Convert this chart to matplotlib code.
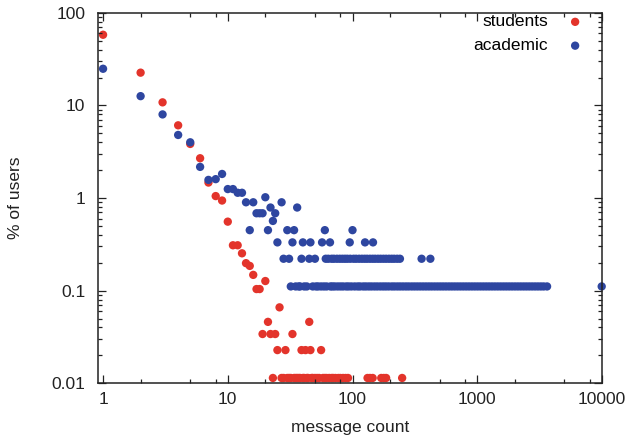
import matplotlib
matplotlib.use("Agg")
import matplotlib.pyplot as plt
from matplotlib.ticker import FixedLocator, NullFormatter

plt.rcParams['font.family'] = ['Liberation Sans', 'DejaVu Sans']

# students (% of users per message count)
students_x = [1, 2, 3, 4, 5, 6, 7, 8, 9, 10, 11, 12, 13, 14, 15, 16, 17, 18, 20,
              19, 22, 24, 33, 21, 45, 26, 25, 29, 39, 42, 46, 56,
              23, 27, 28, 30, 31, 32, 34, 35, 36, 37, 38, 40, 41, 43, 44, 47, 48,
              50, 52, 54, 58, 60, 62, 65, 68, 70, 73, 77, 80, 84, 88, 92,
              132, 138, 145, 170, 178, 186, 250]
students_y = [58, 22.6, 10.8, 6.1, 3.84, 2.69, 1.47, 1.05, 0.94, 0.556, 0.309, 0.309,
              0.253, 0.198, 0.185, 0.148, 0.104, 0.104, 0.127,
              0.034, 0.034, 0.034, 0.034, 0.046, 0.046, 0.066, 0.0228, 0.0228,
              0.0228, 0.0228, 0.0228, 0.0228] + [0.0114] * 39

# academic
academic_x = [1, 2, 3, 4, 5, 6, 7, 8, 9, 10, 11, 12, 13, 14, 16, 20, 27, 22, 36,
              17, 18, 19, 24, 23, 15, 21, 30, 34, 60, 100,
              25, 33, 40, 46, 57, 66, 95, 126, 146,
              28, 31, 39, 45, 50, 61, 64, 68, 71, 75, 79, 83, 87, 91, 96, 102, 107,
              113, 119, 125, 131, 138, 145, 152, 160, 168, 177, 186, 196, 206, 216,
              228, 240, 358, 421,
              32, 35, 37, 38, 41, 43, 48, 51, 53, 56, 59, 62, 66.5, 69, 72, 76, 80,
              84, 89, 93, 98, 104, 110, 115, 122, 128, 135, 142, 150, 158, 167,
              176, 185, 195, 206.5, 217, 229, 241, 254, 268, 282, 298, 314, 331,
              349, 368, 388, 409, 431, 455, 480, 506, 533, 562, 593, 625, 659, 695,
              733, 773, 815, 859, 906, 955, 1007, 1062, 1120, 1181, 1245, 1313,
              1384, 1460, 1540, 1624, 1712, 1805, 1903, 2007, 2116, 2231, 2353,
              2480, 2615, 2757, 2907, 3065, 3232, 3408, 3630, 9950]
academic_y = ([24.9, 12.6, 8.0, 4.8, 4.0, 2.17, 1.57, 1.6, 1.82, 1.25, 1.25, 1.14,
               1.14, 0.9, 0.9, 1.02, 0.9, 0.79, 0.79,
               0.685, 0.685, 0.685, 0.685, 0.566, 0.45, 0.45, 0.45, 0.45, 0.45, 0.45]
              + [0.332] * 9 + [0.221] * 35 + [0.111] * 90)

tick_vals_x = [1, 10, 100, 1000, 10000]
tick_labels_x = ['1', '10', '100', '1000', '10000']
tick_vals_y = [0.01, 0.1, 1, 10, 100]
tick_labels_y = ['0.01', '0.1', '1', '10', '100']

red = '#e3342b'
blue = '#2e46a0'
ink = '#222222'

fig = plt.figure(figsize=(6.3, 4.4), dpi=100)
ax = fig.add_axes([0.155, 0.129, 0.8005, 0.8418])

ax.scatter(students_x, students_y, s=36, color=red, edgecolors='none', label='students')
ax.scatter(academic_x, academic_y, s=36, color=blue, edgecolors='none', label='academic',
           clip_on=False)

ax.set_xscale('log')
ax.set_yscale('log')
ax.set_xlim(0.905, 10000)
ax.set_ylim(0.01, 100)

ax.xaxis.set_major_locator(FixedLocator(tick_vals_x))
ax.set_xticklabels(tick_labels_x)
minor_x = [m * 10 ** k for k in range(0, 4) for m in (2, 5, 8)]
ax.xaxis.set_minor_locator(FixedLocator(minor_x))
ax.xaxis.set_minor_formatter(NullFormatter())

ax.yaxis.set_major_locator(FixedLocator(tick_vals_y))
ax.set_yticklabels(tick_labels_y)
minor_y = [m * 10 ** k for k in range(-2, 2) for m in range(2, 10)]
ax.yaxis.set_minor_locator(FixedLocator(minor_y))
ax.yaxis.set_minor_formatter(NullFormatter())

ax.tick_params(which='both', direction='in', top=True, right=True, color=ink, width=0.9)
ax.tick_params(which='major', length=6, labelsize=12.5, labelcolor=ink)
ax.tick_params(which='minor', length=3)
ax.tick_params(axis='x', which='major', pad=6)
ax.tick_params(axis='y', which='major', pad=9)
for sp in ax.spines.values():
    sp.set_linewidth(1.1)
    sp.set_color(ink)

ax.set_xlabel('message count', fontsize=12.5, color=ink)
ax.set_ylabel('% of users', fontsize=12.5, color=ink)
ax.xaxis.set_label_coords(0.5, -0.1)
ax.yaxis.set_label_coords(-0.148, 0.5)

ax.legend(loc='upper right', frameon=False, markerfirst=False, fontsize=12.5,
          handletextpad=0.55, borderaxespad=0.0, labelspacing=0.5,
          scatterpoints=1, bbox_to_anchor=(0.995, 1.015))

fig.savefig('out.png', dpi=100)
